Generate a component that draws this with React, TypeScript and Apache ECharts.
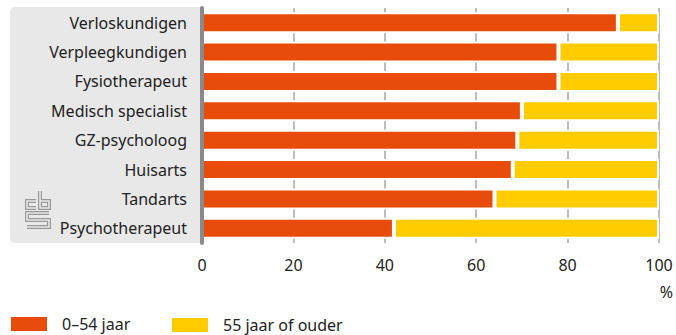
import React, { useEffect, useRef } from "react";
import * as echarts from "echarts";

const categories = [
  "Verloskundigen",
  "Verpleegkundigen",
  "Fysiotherapeut",
  "Medisch specialist",
  "GZ-psycholoog",
  "Huisarts",
  "Tandarts",
  "Psychotherapeut",
];
const seriesNames = ["0–54 jaar", "55 jaar of ouder"];
const youngShare = [91, 78, 78, 70, 69, 68, 64, 42];
const oldShare = [9, 22, 22, 30, 31, 32, 36, 58];
const xTickValues = [0, 20, 40, 60, 80, 100];
const unitLabel = "%";

const ORANGE = "#E84C0A";
const YELLOW = "#FFCC00";
const BG = "#e8e8e8";
const FONT = "Noto Sans";

const LOGO_D =
  "M11,10 H2 V17 H11 M15,0 V17 H24 V10 H15 M24,22 H2 V29 H24 V36 H2";

let registered = false;
function ensureLogo() {
  if (registered) return;
  registered = true;
  echarts.graphic.registerShape("logo", echarts.graphic.extendPath(LOGO_D, {}) as any);
}

export default function App() {
  const ref = useRef<HTMLDivElement>(null);
  useEffect(() => {
    if (!ref.current) return;
    ensureLogo();
    const chart = echarts.init(ref.current, undefined, { renderer: "svg" });
    const option: any = {
      animation: false,
      textStyle: { fontFamily: FONT },
      grid: { left: 202, right: 17, top: 8, bottom: 92, containLabel: false },
      xAxis: {
        type: "value",
        min: xTickValues[0],
        max: xTickValues[xTickValues.length - 1],
        interval: 20,
        axisLine: { show: false },
        axisTick: { show: false },
        splitLine: { show: true, lineStyle: { color: "#a6a6a6", width: 1.5 } },
        axisLabel: { fontSize: 16, color: "#222", margin: 14, fontFamily: FONT },
      },
      yAxis: {
        type: "category",
        data: categories,
        inverse: true,
        z: 10,
        axisLine: { show: true, lineStyle: { color: "#8a8a8a", width: 4 } },
        axisTick: { show: false },
        axisLabel: { fontSize: 16, color: "#222", margin: 15, fontFamily: FONT },
      },
      legend: [
        {
          data: [seriesNames[0]],
          left: 9,
          top: 315,
          padding: 0,
          itemWidth: 38,
          itemHeight: 16,
          icon: "rect",
          textStyle: { fontSize: 16, color: "#222", padding: [0, 0, 0, 9], fontFamily: FONT },
        },
        {
          data: [seriesNames[1]],
          left: 170,
          top: 316,
          padding: 0,
          itemWidth: 38,
          itemHeight: 16,
          icon: "rect",
          textStyle: { fontSize: 16, color: "#222", padding: [0, 0, 0, 9], fontFamily: FONT },
        },
      ],
      series: [
        {
          name: seriesNames[0],
          type: "bar",
          stack: "total",
          data: youngShare,
          barWidth: 21,
          itemStyle: { color: ORANGE, borderColor: "#fff", borderWidth: 2 },
        },
        {
          name: seriesNames[1],
          type: "bar",
          stack: "total",
          data: oldShare,
          barWidth: 21,
          itemStyle: { color: YELLOW, borderColor: "#fff", borderWidth: 2 },
        },
      ],
      graphic: [
        {
          type: "rect",
          z: -10,
          shape: { x: 10, y: 7, width: 194, height: 236, r: [5, 0, 0, 5] },
          style: { fill: BG },
        },
        {
          type: "logo",
          x: 25,
          y: 191,
          z: -5,
          style: { fill: "none", stroke: "#9a9a9a", lineWidth: 4 },
        },
        {
          type: "logo",
          x: 25,
          y: 191,
          z: -4,
          style: { fill: "none", stroke: BG, lineWidth: 1.6 },
        },
        {
          type: "text",
          x: 673,
          y: 292,
          style: {
            text: unitLabel,
            fontSize: 16,
            fontFamily: FONT,
            fill: "#222",
            textAlign: "right",
            textVerticalAlign: "middle",
          },
        },
      ],
    };
    chart.setOption(option);
    return () => chart.dispose();
  }, []);
  return (
    <div
      ref={ref}
      style={{ position: "absolute", left: 0, top: 0, width: 676, height: 335 }}
    />
  );
}
